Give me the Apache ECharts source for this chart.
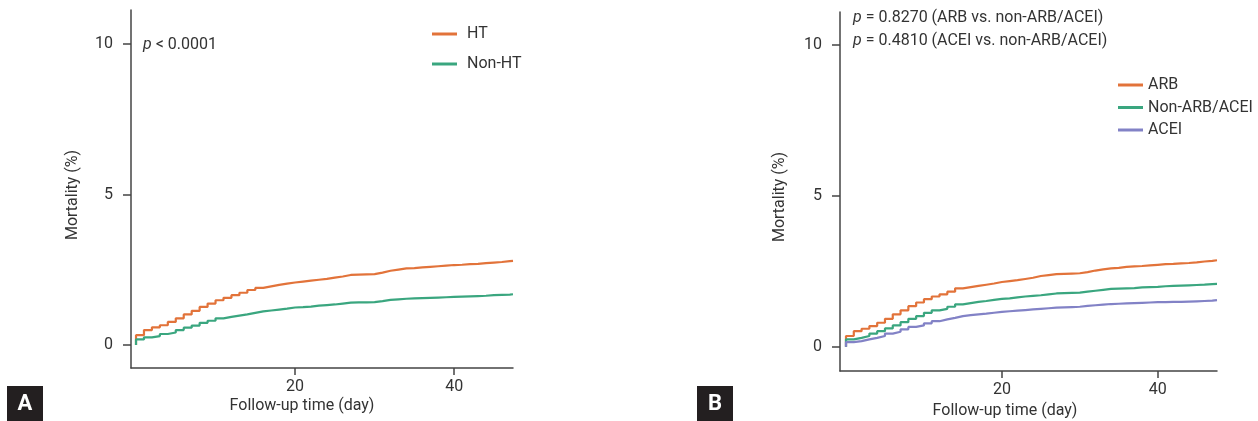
<!DOCTYPE html>
<html>
<head>
<meta charset="utf-8">
<script src="https://cdn.jsdelivr.net/npm/echarts@6/dist/echarts.min.js"></script>
<style>
html,body{margin:0;padding:0;background:#fff;}
#chart{width:1258px;height:421px;}
</style>
</head>
<body>
<div id="chart"></div>
<script>
// ---- Data ----
const days = [0,1,2,3,4,5,6,7,8,9,10,11,12,13,14,15,16,17,18,19,20,21,22,23,24,25,26,27,28,29,30,31,32,33,34,35,36,37,38,39,40,41,42,43,44,45,46,47];
const endDayA = 47.4;
const endDayB = 47.6;

// Panel A
const htValues = [0.33,0.50,0.59,0.66,0.77,0.89,1.02,1.14,1.27,1.38,1.49,1.57,1.66,1.74,1.83,1.90,1.95,2.00,2.04,2.08,2.11,2.14,2.17,2.20,2.24,2.28,2.33,2.34,2.35,2.36,2.41,2.47,2.51,2.55,2.56,2.58,2.60,2.62,2.64,2.66,2.67,2.69,2.70,2.72,2.74,2.76,2.79,2.80];
const nonHtValues = [0.19,0.26,0.30,0.37,0.42,0.50,0.58,0.65,0.74,0.81,0.89,0.94,0.98,1.02,1.07,1.12,1.15,1.18,1.21,1.25,1.26,1.28,1.31,1.33,1.35,1.38,1.41,1.42,1.42,1.43,1.46,1.50,1.52,1.54,1.55,1.56,1.57,1.58,1.59,1.60,1.61,1.62,1.63,1.64,1.66,1.67,1.68,1.69];

// Panel B
const arbValues = [0.36,0.52,0.60,0.69,0.80,0.93,1.08,1.21,1.35,1.47,1.58,1.67,1.74,1.83,1.94,1.98,2.02,2.06,2.10,2.15,2.18,2.21,2.25,2.29,2.35,2.38,2.41,2.42,2.43,2.44,2.48,2.53,2.57,2.60,2.62,2.65,2.67,2.68,2.70,2.72,2.74,2.75,2.77,2.78,2.80,2.83,2.85,2.87];
const nonArbAceiValues = [0.25,0.30,0.36,0.44,0.52,0.61,0.71,0.82,0.93,1.02,1.13,1.21,1.26,1.33,1.41,1.45,1.49,1.52,1.56,1.59,1.61,1.64,1.67,1.69,1.71,1.74,1.77,1.78,1.79,1.80,1.83,1.86,1.89,1.92,1.93,1.94,1.95,1.97,1.98,1.99,2.01,2.02,2.03,2.04,2.05,2.06,2.08,2.09];
const aceiValues = [0.16,0.19,0.25,0.30,0.36,0.44,0.50,0.58,0.66,0.71,0.78,0.85,0.91,0.96,1.02,1.05,1.08,1.10,1.13,1.16,1.18,1.20,1.22,1.24,1.26,1.28,1.30,1.31,1.32,1.33,1.36,1.38,1.40,1.42,1.43,1.44,1.45,1.46,1.47,1.48,1.48,1.49,1.49,1.50,1.51,1.52,1.53,1.55];

const yTicks = [0,5,10];
const xTicks = [20,40];
const namesA = ['HT','Non-HT'];
const namesB = ['ARB','Non-ARB/ACEI','ACEI'];
const pTextA = '< 0.0001';
const pTextB = ['= 0.8270 (ARB vs. non-ARB/ACEI)','= 0.4810 (ACEI vs. non-ARB/ACEI)'];
const xName = 'Follow-up time (day)';
const yName = 'Mortality (%)';

const ORANGE = '#E2733A';
const GREEN = '#3AA67F';
const PURPLE = '#8282C6';
const FONT = 'Roboto';
const FS = 16;
const TXT = '#333333';
const AX = '#444444';

function km(values, endDay){
  const d = [[days[0],0]];
  values.forEach((v,i)=>d.push([days[i],v]));
  d.push([endDay, values[values.length-1]]);
  return d;
}

function xAxis(idx, min, max){
  return {
    type:'value', gridIndex:idx, min:min, max:max,
    axisLine:{show:true,onZero:false,lineStyle:{color:AX,width:1.5}},
    axisTick:{show:true,length:7,customValues:xTicks,lineStyle:{color:AX,width:1.5}},
    axisLabel:{customValues:xTicks,margin:11,color:TXT,fontSize:FS,fontFamily:FONT},
    splitLine:{show:false}
  };
}
function yAxis(idx, min, max){
  return {
    type:'value', gridIndex:idx, min:min, max:max,
    axisLine:{show:true,onZero:false,lineStyle:{color:AX,width:1.5}},
    axisTick:{show:true,length:8,customValues:yTicks,lineStyle:{color:AX,width:1.5}},
    axisLabel:{customValues:yTicks,margin:18,color:TXT,fontSize:FS,fontFamily:FONT},
    splitLine:{show:false}
  };
}
function line(name, values, endDay, color, idx){
  return {
    name:name, type:'line', xAxisIndex:idx, yAxisIndex:idx,
    data:km(values,endDay), step:'end', showSymbol:false, symbol:'none',
    lineStyle:{color:color,width:2.2}, itemStyle:{color:color},
    animation:false, silent:true
  };
}

const rich = {i:{fontStyle:'italic',fontSize:FS,fontFamily:FONT,fill:TXT}};

const chart = echarts.init(document.getElementById('chart'), null, {renderer:'canvas'});
chart.setOption({
  animation:false,
  backgroundColor:'#ffffff',
  textStyle:{fontFamily:FONT},
  grid:[
    {left:131, top:10, width:382, height:358},
    {left:840, top:12, width:377, height:359}
  ],
  xAxis:[xAxis(0,-0.63,47.4), xAxis(1,-0.77,47.6)],
  yAxis:[yAxis(0,-0.76,11.13), yAxis(1,-0.8,11.1)],
  legend:[
    {data:namesA, orient:'vertical', left:432, top:26, padding:0, itemWidth:25, itemHeight:3, itemGap:14, icon:'rect',
     textStyle:{color:TXT,fontSize:FS,fontFamily:FONT,padding:[0,0,0,5]}},
    {data:namesB, orient:'vertical', left:1118, top:77, padding:0, itemWidth:25, itemHeight:3, itemGap:6.5, icon:'rect',
     textStyle:{color:TXT,fontSize:FS,fontFamily:FONT,padding:[0,0,0,0]}}
  ],
  series:[
    line(namesA[0], htValues, endDayA, ORANGE, 0),
    line(namesA[1], nonHtValues, endDayA, GREEN, 0),
    line(namesB[0], arbValues, endDayB, ORANGE, 1),
    line(namesB[1], nonArbAceiValues, endDayB, GREEN, 1),
    line(namesB[2], aceiValues, endDayB, PURPLE, 1)
  ],
  graphic:[
    {type:'text', left:143, top:37, style:{text:'{i|p} '+pTextA, fill:TXT, font:FS+'px '+FONT, rich:rich}},
    {type:'text', left:853, top:10, style:{text:'{i|p} '+pTextB[0], fill:TXT, font:FS+'px '+FONT, rich:rich}},
    {type:'text', left:853, top:33, style:{text:'{i|p} '+pTextB[1], fill:TXT, font:FS+'px '+FONT, rich:rich}},
    {type:'text', x:302, y:406, style:{text:xName, fill:TXT, font:FS+'px '+FONT, align:'center', verticalAlign:'middle'}},
    {type:'text', x:1005, y:411, style:{text:xName, fill:TXT, font:FS+'px '+FONT, align:'center', verticalAlign:'middle'}},
    {type:'text', x:73, y:195, rotation:Math.PI/2, style:{text:yName, fill:TXT, font:FS+'px '+FONT, align:'center', verticalAlign:'middle'}},
    {type:'text', x:780, y:197, rotation:Math.PI/2, style:{text:yName, fill:TXT, font:FS+'px '+FONT, align:'center', verticalAlign:'middle'}},
    {type:'rect', shape:{x:7,y:386,width:36,height:35}, style:{fill:'#231f20'}},
    {type:'text', x:25, y:404, style:{text:'A', fill:'#ffffff', font:'bold 22px '+FONT, align:'center', verticalAlign:'middle'}},
    {type:'rect', shape:{x:697,y:386,width:36,height:35}, style:{fill:'#231f20'}},
    {type:'text', x:715, y:404, style:{text:'B', fill:'#ffffff', font:'bold 22px '+FONT, align:'center', verticalAlign:'middle'}}
  ]
});
</script>
</body>
</html>
